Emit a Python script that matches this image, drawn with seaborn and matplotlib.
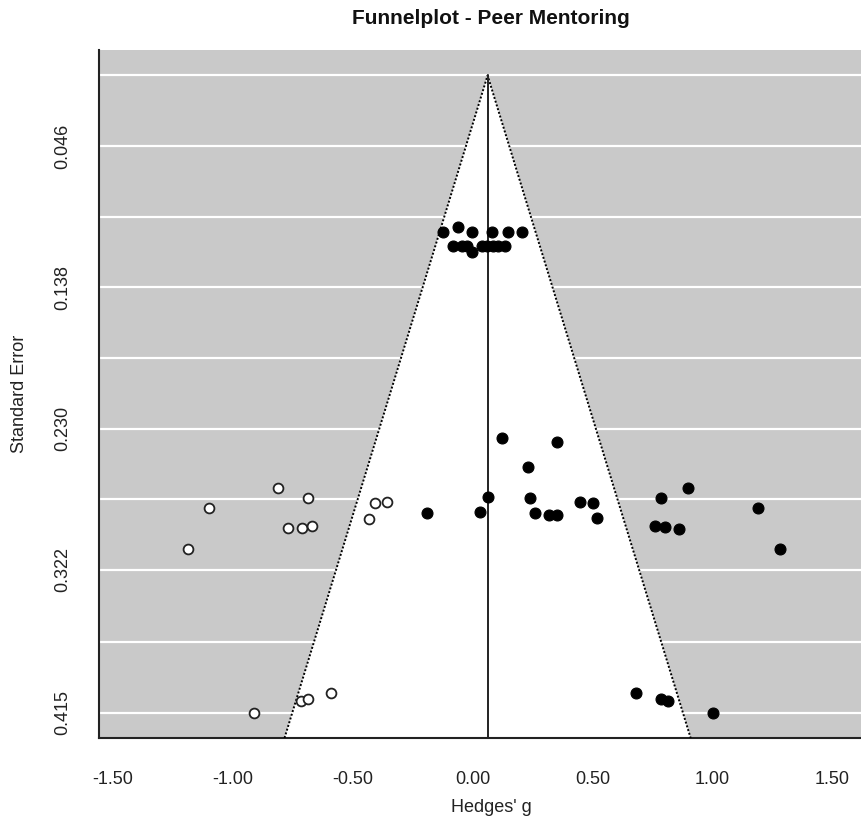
import numpy as np
import pandas as pd
import matplotlib
matplotlib.use("Agg")
import matplotlib.pyplot as plt
import seaborn as sns

# observed studies (filled dots)
obs_g = [-0.122, -0.059, -0.003, 0.080, 0.149, 0.205,
         -0.080, -0.045, -0.024, -0.003, 0.038, 0.062, 0.084, 0.108, 0.135,
         0.122, 0.351, 0.233, 0.063, 0.240, 0.448, 0.501, -0.188, 0.031,
         0.260, 0.319, 0.351, 0.520,
         0.784, 0.899, 1.191, 0.760, 0.802, 0.860, 1.281,
         0.680, 0.784, 0.816, 1.003]
obs_se = [0.1018, 0.0985, 0.1022, 0.1018, 0.1018, 0.1018,
          0.1111, 0.1108, 0.1111, 0.1152, 0.1111, 0.1108, 0.1111, 0.1111, 0.1108,
          0.2364, 0.2386, 0.2548, 0.2744, 0.2755, 0.2776, 0.2787, 0.2852, 0.2842,
          0.2852, 0.2863, 0.2863, 0.2885,
          0.2750, 0.2685, 0.2815, 0.2935, 0.2943, 0.2954, 0.3087,
          0.4025, 0.4062, 0.4075, 0.4151]

# imputed studies from trim-and-fill (open dots)
fill_g = [-0.812, -0.687, -1.098, -0.770, -0.712, -0.670, -1.187,
          -0.406, -0.358, -0.431, -0.910, -0.716, -0.684, -0.590]
fill_se = [0.2685, 0.2750, 0.2815, 0.2950, 0.2946, 0.2935, 0.3087,
           0.2787, 0.2776, 0.2889, 0.4155, 0.4075, 0.4064, 0.4025]

estimate = 0.063
se_ticks = [0.0, 0.046, 0.092, 0.138, 0.184, 0.230, 0.276, 0.322, 0.369, 0.415]
se_labels = ["", "0.046", "", "0.138", "", "0.230", "", "0.322", "", "0.415"]
x_ticks = [-1.5, -1.0, -0.5, 0.0, 0.5, 1.0, 1.5]
x_labels = ["-1.50", "-1.00", "-0.50", "0.00", "0.50", "1.00", "1.50"]

sns.set_style("white")
plt.rcParams["font.family"] = ["Liberation Sans", "DejaVu Sans"]

obs = pd.DataFrame({"g": obs_g, "se": obs_se})
imp = pd.DataFrame({"g": fill_g, "se": fill_se})

fig = plt.figure(figsize=(8.62, 8.19), dpi=100)
ax = fig.add_axes([0.1148, 0.0989, 0.9095, 0.8401])

xmin, xmax = -1.556, 1.71
ylo, yhi = 0.4316, -0.0166
ax.set_xlim(xmin, xmax)
ax.set_ylim(ylo, yhi)
ax.set_facecolor("#c9c9c9")

# white grid lines
for t in se_ticks:
    ax.axhline(t, color="white", lw=1.6, zorder=1)

# funnel region
half = 1.96 * ylo
ax.fill([estimate - half, estimate, estimate + half],
        [ylo, 0, ylo], color="white", zorder=2, lw=0)
ax.plot([estimate - half, estimate, estimate + half], [ylo, 0, ylo],
        color="black", lw=1.4, ls=(0, (1, 1)), zorder=3)
ax.plot([estimate, estimate], [0, ylo], color="#222222", lw=1.4, zorder=3)

sns.scatterplot(data=obs, x="g", y="se", ax=ax, color="black", s=62,
                edgecolor="black", linewidth=0.8, zorder=5, legend=False)
sns.scatterplot(data=imp, x="g", y="se", ax=ax, color="white", s=50,
                edgecolor="#222222", linewidth=1.3, zorder=5, legend=False)

ax.set_xticks(x_ticks)
ax.set_xticklabels(x_labels, fontsize=13)
ax.set_yticks(se_ticks)
ax.set_yticklabels(se_labels, fontsize=13, rotation=90, va="center")
ax.tick_params(axis="both", direction="out", length=9, width=1.2,
               color="#222222", labelcolor="#222222")
ax.tick_params(axis="x", pad=15)
ax.tick_params(axis="y", pad=11)

for side in ["top", "right"]:
    ax.spines[side].set_visible(False)
for side in ["left", "bottom"]:
    ax.spines[side].set_color("#222222")
    ax.spines[side].set_linewidth(1.5)

ax.set_xlabel("Hedges' g", fontsize=13, color="#222222", labelpad=8)
ax.set_ylabel("Standard Error", fontsize=13, color="#222222", labelpad=19)
fig.text(0.569, 0.977, "Funnelplot - Peer Mentoring", ha="center", va="center",
         fontsize=15, fontweight="bold", color="#111111")

fig.savefig("out.png", dpi=100)
